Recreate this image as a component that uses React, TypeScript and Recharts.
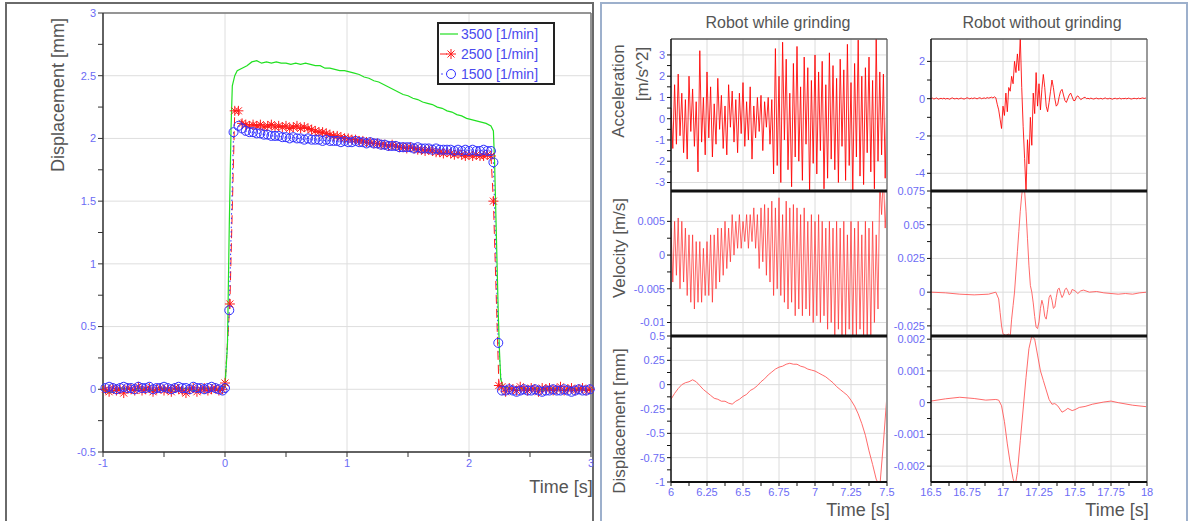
import { LineChart, Line, XAxis, YAxis, CartesianGrid, ReferenceLine, Legend } from "recharts";

type Pt = { t: number; v: number };

const FONT = "'Liberation Sans', Arial, sans-serif";
const TICK_BLUE = "#6b6bf5";

// sample grid helper (time stamps only, values are typed below)
const grid = (start: number, step: number, n: number) =>
  Array.from({ length: n }, (_, i) => Math.round((start + i * step) * 10000) / 10000);
const zip = (ts: number[], vs: number[]): Pt[] => ts.map((t, i) => ({ t, v: vs[i] }));

// ---------------- left chart: displacement vs time ----------------
const seriesNames = ["3500 [1/min]", "2500 [1/min]", "1500 [1/min]"];

const greenPre = [0.0, -0.03, -0.01, 0.01, 0.0, -0.01, 0.01, 0.0, -0.01, 0.0, 0.01, -0.01, 0.0, 0.01, 0.0, -0.01, 0.0, 0.01, 0.0, 0.0];
const greenRiseT = [0.0, 0.02, 0.035, 0.05, 0.06, 0.08];
const greenRiseV = [0.02, 0.35, 1.3, 2.1, 2.42, 2.5];
const greenTop = [
  2.54, 2.56, 2.58, 2.61, 2.62, 2.6, 2.61, 2.6, 2.61, 2.6,
  2.6, 2.59, 2.6, 2.59, 2.6, 2.59, 2.58, 2.58, 2.56, 2.56,
  2.55, 2.54, 2.54, 2.53, 2.52, 2.51, 2.49, 2.48, 2.46, 2.45,
  2.43, 2.41, 2.39, 2.37, 2.35, 2.34, 2.32, 2.31, 2.29, 2.28,
  2.27, 2.25, 2.24, 2.22, 2.21, 2.19, 2.18, 2.16, 2.15, 2.14,
  2.13, 2.12, 2.1,
];
const greenFallT = [2.2, 2.21, 2.22, 2.23, 2.24, 2.25, 2.26, 2.28];
const greenFallV = [2.06, 1.8, 1.4, 1.0, 0.6, 0.3, 0.08, 0.02];
const greenPost = [0.01, 0.0, -0.01, 0.01, 0.0, 0.0, 0.01, -0.01, 0.0, 0.01, 0.0, -0.01, 0.0, 0.01, 0.0, 0.0, -0.01, 0.0];

const redPre = [
  0.0, -0.02, 0.01, -0.01, 0.0, -0.03, 0.01, 0.0, -0.01, 0.02,
  -0.01, 0.0, 0.01, -0.02, 0.0, 0.01, -0.01, 0.0, -0.02, 0.01,
  0.0, -0.01, -0.03, 0.0, 0.01, -0.02, 0.0, 0.01, -0.01, 0.0,
  0.01, -0.01, 0.0,
];
const redRiseT = [0.0, 0.04, 0.08, 0.11];
const redRiseV = [0.05, 0.68, 2.22, 2.22];
const redTop = [
  2.12, 2.11, 2.1, 2.11, 2.1, 2.11, 2.09, 2.1, 2.11, 2.09,
  2.1, 2.09, 2.1, 2.08, 2.09, 2.1, 2.08, 2.09, 2.08, 2.07,
  2.06, 2.05, 2.05, 2.04, 2.03, 2.02, 2.02, 2.01, 2.0, 2.0,
  1.99, 1.99, 1.98, 1.98, 1.97, 1.97, 1.96, 1.96, 1.95, 1.95,
  1.94, 1.95, 1.94, 1.93, 1.93, 1.92, 1.93, 1.92, 1.91, 1.91,
  1.9, 1.91, 1.9, 1.89, 1.89, 1.88, 1.89, 1.88, 1.87, 1.88,
  1.87, 1.86, 1.87, 1.86, 1.87, 1.86, 1.86, 1.87, 1.86,
];
const redFallT = [2.2, 2.245];
const redFallV = [1.5, 0.03];
const redPost = [
  0.02, -0.02, 0.01, 0.0, -0.01, 0.02, 0.0, -0.01, 0.01, 0.0,
  -0.02, 0.01, 0.0, 0.01, -0.01, 0.0, 0.02, -0.01, 0.0, 0.01,
  -0.01, 0.0, 0.01, -0.01, 0.0,
];

const bluePre = [
  0.01, 0.02, 0.01, 0.0, 0.01, 0.02, 0.01, 0.01, 0.0, 0.02,
  0.01, 0.01, 0.02, 0.0, 0.01, 0.01, 0.02, 0.01, 0.0, 0.01,
  0.02, 0.01, 0.01, 0.0, 0.02, 0.01, 0.01, 0.0, 0.01, 0.02,
  0.01, 0.0, -0.01,
];
const blueRiseT = [0.0, 0.035, 0.07, 0.11];
const blueRiseV = [0.01, 0.63, 2.05, 2.1];
const blueTop = [
  2.08, 2.06, 2.05, 2.05, 2.04, 2.04, 2.03, 2.03, 2.02, 2.02,
  2.02, 2.01, 2.01, 2.0, 2.01, 2.0, 2.0, 1.99, 2.0, 1.99,
  1.99, 1.99, 1.98, 1.99, 1.98, 1.98, 1.98, 1.97, 1.98, 1.97,
  1.97, 1.98, 1.97, 1.97, 1.96, 1.97, 1.96, 1.96, 1.95, 1.95,
  1.94, 1.94, 1.94, 1.93, 1.93, 1.93, 1.93, 1.92, 1.93, 1.92,
  1.92, 1.92, 1.91, 1.92, 1.91, 1.91, 1.91, 1.91, 1.9, 1.91,
  1.9, 1.91, 1.9, 1.91, 1.9, 1.9, 1.91, 1.9, 1.9,
];
const blueFallT = [2.2, 2.24];
const blueFallV = [1.81, 0.37];
const bluePost = [
  -0.01, -0.01, 0.0, -0.01, -0.02, -0.01, 0.0, -0.01, -0.01, 0.0,
  -0.01, -0.02, -0.01, -0.01, 0.0, -0.01, -0.01, 0.0, -0.01, -0.02,
  -0.01, 0.0, -0.01, -0.01, 0.0,
];

const green3500 = [
  ...zip(grid(-1, 0.05, 20), greenPre),
  ...zip(greenRiseT, greenRiseV),
  ...zip(grid(0.1, 0.04, 53), greenTop),
  ...zip(greenFallT, greenFallV),
  ...zip(grid(2.32, 0.04, 18), greenPost),
];
const red2500 = [
  ...zip(grid(-0.98, 0.03, 33), redPre),
  ...zip(redRiseT, redRiseV),
  ...zip(grid(0.14, 0.03, 69), redTop),
  ...zip(redFallT, redFallV),
  ...zip(grid(2.27, 0.03, 25), redPost),
];
const blue1500 = [
  ...zip(grid(-0.98, 0.03, 33), bluePre),
  ...zip(blueRiseT, blueRiseV),
  ...zip(grid(0.14, 0.03, 69), blueTop),
  ...zip(blueFallT, blueFallV),
  ...zip(grid(2.27, 0.03, 25), bluePost),
];

const leftXTicks = [-1, -0.5, 0, 0.5, 1, 1.5, 2, 2.5, 3];
const leftXMajor = [-1, 0, 1, 2, 3];
const leftYTicks = [-0.5, -0.25, 0, 0.25, 0.5, 0.75, 1, 1.25, 1.5, 1.75, 2, 2.25, 2.5, 2.75, 3];
const leftYMajor = [-0.5, 0, 0.5, 1, 1.5, 2, 2.5, 3];

// ---------------- right panel: robot measurements ----------------
const accelGrind = [
  0.5, -1.4, 1.6, -1.2, 2.1, -0.8, 1.2, -1.6, 0.9, -1.9,
  2.0, -0.6, 1.4, -1.3, 0.8, -2.5, 3.2, -1.1, 1.0, -1.7,
  2.2, -0.9, 1.5, -1.8, 0.7, -1.2, 1.9, -0.5, 1.1, -1.4,
  0.6, -1.7, 1.6, -0.4, 1.3, -1.1, 0.9, -1.6, 1.2, -0.7,
  1.7, -1.3, 0.8, -1.0, 1.5, -1.9, 0.6, -0.9, 1.0, -0.6,
  1.1, -1.5, 0.8, -0.4, 1.0, -1.2, 0.9,
  -2.6, 3.3, -2.2, 2.0, -3.0, 3.6, -1.0, 2.8, -2.4, 1.2,
  -3.2, 2.6, -1.8, 3.4, -2.0, 1.5, -2.9, 2.9, -1.2, 2.4,
  -3.4, 1.8, -2.1, 3.0, -2.6, 2.2, -1.5, 2.7, -3.3, 1.6,
  -2.8, 3.1, -1.9, 2.5, -2.4, 1.9, -3.0, 2.8, -1.3, 2.3,
  -2.9, 3.5, -2.2, 1.7, -3.4, 2.6, -1.8, 3.7, -2.7, 2.0,
  -3.1, 2.4, -1.6, 2.9, -2.5, 1.8, -3.3, 3.8, -2.0, 2.2,
  -1.7, 2.1, -2.8, 1.5,
];
const velGrind = [
  0.004, -0.004, 0.005, -0.003, 0.0055, -0.005, 0.005, -0.004, 0.004, -0.006,
  0.003, -0.007, 0.003, -0.008, 0.002, -0.007, 0.002, -0.007, 0.001, -0.006,
  0.002, -0.006, 0.003, -0.007, 0.003, -0.005, 0.004, -0.004, 0.004, -0.003,
  0.005, -0.002, 0.004, -0.001, 0.006, 0.0, 0.005, 0.001, 0.006, 0.001,
  0.005, 0.002, 0.006, 0.001, 0.006, 0.002, 0.007, 0.001, 0.006, -0.002,
  0.007, -0.001, 0.0075, -0.003, 0.007, -0.004, 0.008, -0.006, 0.007, -0.005,
  0.0085, -0.006, 0.006, -0.007, 0.008, -0.008, 0.007, -0.007, 0.0075, -0.009,
  0.007, -0.008, 0.006, -0.009, 0.007, -0.008, 0.005, -0.009, 0.006, -0.01,
  0.005, -0.009, 0.006, -0.01, 0.005, -0.009, 0.004, -0.011, 0.005, -0.01,
  0.004, -0.012, 0.005, -0.011, 0.004, -0.012, 0.005, -0.012, 0.003, -0.011,
  0.005, -0.012, 0.004, -0.012, 0.005, -0.011, 0.003, -0.012, 0.005, -0.012,
  0.004, -0.012, 0.005, -0.01, 0.003, -0.008, 0.011, 0.006, 0.012, 0.004,
  0.01,
];
const dispGrind = [
  -0.15, -0.09, -0.04, 0.0, 0.02, 0.03, 0.05, 0.03, -0.01, -0.05,
  -0.08, -0.11, -0.14, -0.15, -0.17, -0.17, -0.19, -0.2, -0.17, -0.15,
  -0.12, -0.1, -0.06, -0.04, -0.01, 0.03, 0.06, 0.1, 0.13, 0.16,
  0.18, 0.19, 0.21, 0.22, 0.21, 0.21, 0.19, 0.18, 0.16, 0.15,
  0.14, 0.12, 0.1, 0.08, 0.05, 0.02, -0.02, -0.05, -0.08, -0.11,
  -0.16, -0.22, -0.3, -0.4, -0.52, -0.68, -0.82, -0.97, -1.05, -0.6,
  -0.1,
];
const accelFree = [
  0.0, 0.03, -0.02, 0.01, 0.04, -0.03, 0.0, 0.02, -0.01, 0.03,
  -0.02, 0.01, 0.0, -0.03, 0.02, 0.04, -0.01, 0.0, 0.02, -0.02,
  0.01, 0.03, 0.0, -0.02, 0.01, 0.05, 0.02, -0.01, 0.03, 0.0,
  0.04, 0.02, -0.01, 0.03, 0.05, 0.0, 0.02, 0.04, 0.01, 0.06,
  0.03, 0.05, 0.08, 0.04, 0.1,
  0.05, -0.3, -0.6, -1.1, -1.6, -0.4, -0.9, 0.3, -0.7, 0.6,
  0.4, 1.2, 0.8, 2.0, 1.4, 2.4, 1.5, 3.3, 0.6, -1.5,
  -3.2, -5.0, -2.2, -3.5, -1.0, -2.5, 0.3, -0.8, 1.4, -0.4,
  0.8, -0.6, 0.5, 1.3, 0.6, -0.4, -0.7, -0.2, 0.4, 1.0,
  0.6, 0.0, -0.4, -0.3, 0.1, 0.4, 0.5, 0.2, -0.1, -0.2,
  0.0, 0.2, 0.3, 0.1, -0.1, -0.1, 0.1, 0.15, 0.05, -0.05,
  0.0, 0.05, 0.08, 0.0,
  0.02, -0.01, 0.03, 0.0, -0.02, 0.01, 0.03, -0.01, 0.0, 0.02,
  -0.02, 0.01, 0.04, 0.0, -0.01, 0.02, 0.0, -0.03, 0.01, 0.02,
  -0.01, 0.0, 0.03, -0.02, 0.01, 0.0, 0.02, -0.01, 0.03, 0.01,
  -0.02, 0.0, 0.02, 0.01, -0.01, 0.03, 0.0, 0.02, 0.04, 0.01,
  0.03, 0.05,
];
const velFreeT = [
  16.5, 16.6, 16.7, 16.8, 16.9, 16.95, 16.97, 16.98, 16.99, 17.0,
  17.02, 17.04, 17.05, 17.06, 17.07, 17.08, 17.09, 17.1, 17.11, 17.12,
  17.13, 17.14, 17.15, 17.16, 17.17, 17.18, 17.19, 17.2, 17.21, 17.22,
  17.23, 17.24, 17.25, 17.26, 17.27, 17.28, 17.29, 17.3, 17.31, 17.32,
  17.33, 17.34, 17.35, 17.36, 17.37, 17.38, 17.39, 17.4, 17.41, 17.42,
  17.43, 17.44, 17.45, 17.46, 17.47, 17.48, 17.5, 17.52, 17.54, 17.56,
  17.6, 17.65, 17.7, 17.75, 17.8, 17.85, 17.9, 17.95, 18.0,
];
const velFreeV = [
  0.0, -0.0005, -0.0015, -0.002, -0.0015, 0.0, -0.005, -0.015, -0.025, -0.031,
  -0.032, -0.031, -0.033, -0.02, -0.01, 0.0, 0.015, 0.03, 0.045, 0.06,
  0.072, 0.08, 0.075, 0.06, 0.04, 0.02, 0.005, 0.0, -0.008, -0.018,
  -0.026, -0.027, -0.022, -0.012, -0.006, -0.01, -0.018, -0.02, -0.013, -0.004,
  -0.002, -0.006, -0.012, -0.011, -0.004, 0.002, 0.003, -0.001, -0.004, -0.002,
  0.002, 0.003, 0.001, -0.002, -0.001, 0.002, 0.001, -0.001, 0.001, 0.0015,
  0.0, 0.0005, -0.0005, -0.001, -0.0015, -0.001, -0.0015, -0.0005, 0.0,
];
const dispFreeT = [
  16.5, 16.6, 16.7, 16.8, 16.88, 16.95, 16.97, 16.99, 17.01, 17.03,
  17.05, 17.07, 17.085, 17.1, 17.12, 17.14, 17.16, 17.18, 17.2, 17.22,
  17.24, 17.26, 17.28, 17.3, 17.32, 17.34, 17.36, 17.38, 17.41, 17.43,
  17.45, 17.48, 17.5, 17.53, 17.57, 17.62, 17.7, 17.75, 17.8, 17.9,
  18.0,
];
const dispFreeV = [
  0.00005, 0.00012, 0.00017, 0.00013, 0.00008, 0.0001, 0.00008, -0.0001, -0.0006, -0.0013,
  -0.0019, -0.0024, -0.0026, -0.0022, -0.0012, -0.0002, 0.0008, 0.0017, 0.0021, 0.002,
  0.0015, 0.001, 0.0007, 0.0004, 0.0001, -0.00005, -0.00003, -0.0001, -0.0003, -0.00025,
  -0.00018, -0.00025, -0.00022, -0.00015, -0.00012, -0.00005, 0.00002, 0.00005, 0.0, -0.00008,
  -0.00013,
];

const grindXMajor = [6, 6.25, 6.5, 6.75, 7, 7.25, 7.5];
const freeXMajor = [16.5, 16.75, 17, 17.25, 17.5, 17.75, 18];

const withMinors = (majors: number[]) => {
  const out: number[] = [];
  majors.forEach((m, i) => {
    out.push(m);
    if (i < majors.length - 1) out.push((m + majors[i + 1]) / 2);
  });
  return out;
};
const isMajor = (majors: number[], v: number) => majors.some((m) => Math.abs(m - v) < 1e-9);

interface PanelCfg {
  x0: number; y0: number; x1: number; y1: number;
  xDomain: [number, number]; yDomain: [number, number];
  xMajor: number[]; yMajor: number[];
  data: Pt[]; color: string; opacity: number;
  topThick: boolean; bottom: boolean;
}

const panels: PanelCfg[] = [
  { x0: 671, y0: 39, x1: 887, y1: 191, xDomain: [6, 7.5], yDomain: [-3.4, 3.75], xMajor: grindXMajor, yMajor: [-3, -2, -1, 0, 1, 2, 3], data: zip(grid(6, 0.0125, 121), accelGrind), color: "#ff0000", opacity: 0.85, topThick: false, bottom: false },
  { x0: 931, y0: 39, x1: 1147, y1: 191, xDomain: [16.5, 18], yDomain: [-4.95, 3.2], xMajor: freeXMajor, yMajor: [-4, -2, 0, 2], data: zip(grid(16.5, 0.01, 151), accelFree), color: "#ff0000", opacity: 0.85, topThick: false, bottom: false },
  { x0: 671, y0: 191, x1: 887, y1: 336, xDomain: [6, 7.5], yDomain: [-0.012, 0.0095], xMajor: grindXMajor, yMajor: [-0.01, -0.005, 0, 0.005], data: zip(grid(6, 0.0125, 121), velGrind), color: "#ff2a2a", opacity: 0.7, topThick: true, bottom: false },
  { x0: 931, y0: 191, x1: 1147, y1: 336, xDomain: [16.5, 18], yDomain: [-0.0325, 0.075], xMajor: freeXMajor, yMajor: [-0.025, 0, 0.025, 0.05, 0.075], data: zip(velFreeT, velFreeV), color: "#ff5a5a", opacity: 0.9, topThick: true, bottom: false },
  { x0: 671, y0: 336, x1: 887, y1: 482, xDomain: [6, 7.5], yDomain: [-1, 0.5], xMajor: grindXMajor, yMajor: [-1, -0.75, -0.5, -0.25, 0, 0.25, 0.5], data: zip(grid(6, 0.025, 61), dispGrind), color: "#ff5a5a", opacity: 0.9, topThick: true, bottom: true },
  { x0: 931, y0: 336, x1: 1147, y1: 482, xDomain: [16.5, 18], yDomain: [-0.0025, 0.0021], xMajor: freeXMajor, yMajor: [-0.002, -0.001, 0, 0.001, 0.002], data: zip(dispFreeT, dispFreeV), color: "#ff5a5a", opacity: 0.9, topThick: true, bottom: true },
];

const SubPlot = ({ cfg }: { cfg: PanelCfg }) => {
  const YW = 60;
  const PADT = 9;
  const PADR = 14;
  const PADB = 9;
  const XH = cfg.bottom ? 22 : 0;
  const w = cfg.x1 - cfg.x0 + YW + PADR;
  const h = cfg.y1 - cfg.y0 + PADT + (cfg.bottom ? XH : PADB);
  return (
    <div style={{ position: "absolute", left: cfg.x0 - YW, top: cfg.y0 - PADT }}>
      <LineChart width={w} height={h} margin={{ top: PADT, right: PADR, left: 0, bottom: cfg.bottom ? 0 : PADB }}>
        <CartesianGrid stroke="#dcdcdc" verticalValues={cfg.xMajor} horizontalValues={cfg.yMajor} />
        <XAxis
          type="number"
          dataKey="t"
          domain={cfg.xDomain}
          ticks={withMinors(cfg.xMajor)}
          allowDataOverflow
          hide={!cfg.bottom}
          height={XH}
          interval={0}
          tickSize={4}
          tickFormatter={(v: number) => (isMajor(cfg.xMajor, v) ? String(v) : "")}
          axisLine={{ stroke: "#111", strokeWidth: 2 }}
          tickLine={{ stroke: "#111" }}
          tick={{ fill: TICK_BLUE, fontSize: 11, fontFamily: FONT }}
        />
        <YAxis
          type="number"
          domain={cfg.yDomain}
          ticks={withMinors(cfg.yMajor)}
          allowDataOverflow
          width={YW}
          interval={0}
          tickSize={4}
          tickFormatter={(v: number) => (isMajor(cfg.yMajor, v) ? String(v) : "")}
          axisLine={{ stroke: "#111", strokeWidth: 1.5 }}
          tickLine={{ stroke: "#111" }}
          tick={{ fill: TICK_BLUE, fontSize: 11, fontFamily: FONT }}
        />
        <Line
          data={cfg.data}
          dataKey="v"
          type="linear"
          stroke={cfg.color}
          strokeOpacity={cfg.opacity}
          strokeWidth={1}
          dot={false}
          isAnimationActive={false}
        />
        <ReferenceLine x={cfg.xDomain[1]} stroke="#9a9a9a" strokeWidth={2} />
        <ReferenceLine y={cfg.yDomain[1]} stroke={cfg.topThick ? "#111" : "#555"} strokeWidth={cfg.topThick ? 3 : 1.5} />
      </LineChart>
    </div>
  );
};

const StarMark = ({ cx, cy }: { cx: number; cy: number }) => (
  <g stroke="#ff1a1a" strokeWidth={1}>
    <line x1={cx - 5} y1={cy} x2={cx + 5} y2={cy} />
    <line x1={cx} y1={cy - 5} x2={cx} y2={cy + 5} />
    <line x1={cx - 3.5} y1={cy - 3.5} x2={cx + 3.5} y2={cy + 3.5} />
    <line x1={cx - 3.5} y1={cy + 3.5} x2={cx + 3.5} y2={cy - 3.5} />
  </g>
);

const starDot = (p: any) =>
  p.cx == null ? <g key={`s${p.index}`} /> : <StarMark key={`s${p.index}`} cx={p.cx} cy={p.cy} />;
const circleDot = (p: any) =>
  p.cx == null ? <g key={`c${p.index}`} /> : (
    <circle key={`c${p.index}`} cx={p.cx} cy={p.cy} r={4.5} fill="none" stroke="#3030ff" strokeWidth={1} />
  );

const LegendBox = () => (
  <div
    style={{
      border: "2px solid #222",
      background: "#fff",
      width: 114,
      height: 59,
      fontFamily: FONT,
      fontSize: 14,
      color: "#4a4aee",
      boxSizing: "content-box",
    }}
  >
    {seriesNames.map((name, i) => (
      <div key={name} style={{ display: "flex", alignItems: "center", height: 20 }}>
        <svg width={20} height={14} style={{ flex: "none" }}>
          {i === 0 && <line x1={1} y1={7} x2={19} y2={7} stroke="#22e022" strokeWidth={1.2} />}
          {i === 1 && (
            <>
              <line x1={1} y1={7} x2={8} y2={7} stroke="#ff1a1a" strokeWidth={1} />
              <StarMark cx={12} cy={7} />
            </>
          )}
          {i === 2 && (
            <>
              <circle cx={3} cy={7} r={0.8} fill="#3030ff" />
              <circle cx={12} cy={7} r={4.5} fill="none" stroke="#3030ff" strokeWidth={1} />
            </>
          )}
        </svg>
        <span style={{ marginLeft: 2 }}>{name}</span>
      </div>
    ))}
  </div>
);

const RotText = ({ x, y, size, children }: { x: number; y: number; size: number; children: string }) => (
  <div
    style={{
      position: "absolute",
      left: x,
      top: y,
      transform: "translate(-50%, -50%) rotate(-90deg)",
      whiteSpace: "nowrap",
      fontFamily: FONT,
      fontSize: size,
      color: "#555",
    }}
  >
    {children}
  </div>
);

const PlainText = ({ x, y, size, children }: { x: number; y: number; size: number; children: string }) => (
  <div
    style={{
      position: "absolute",
      left: x,
      top: y,
      transform: "translate(-50%, -50%)",
      whiteSpace: "nowrap",
      fontFamily: FONT,
      fontSize: size,
      color: "#555",
    }}
  >
    {children}
  </div>
);

export default function App() {
  return (
    <div style={{ position: "absolute", left: 0, top: 0, width: 1190, height: 521, background: "#fff", overflow: "hidden" }}>
      {/* panel frames */}
      <div style={{ position: "absolute", left: 5, top: 2, width: 585, height: 540, border: "2px solid #6a6a6a" }} />
      <div style={{ position: "absolute", left: 600, top: 2, width: 584, height: 540, border: "2px solid #9db0cc" }} />

      {/* left chart */}
      <div style={{ position: "absolute", left: 0, top: 0 }}>
        <LineChart width={600} height={521} margin={{ top: 13, right: 9, left: 43, bottom: 39 }}>
          <CartesianGrid stroke="#dedede" verticalValues={leftXMajor} horizontalValues={leftYMajor} />
          <XAxis
            type="number"
            dataKey="t"
            domain={[-1, 3]}
            ticks={leftXTicks}
            interval={0}
            height={30}
            tickSize={5}
            tickFormatter={(v: number) => (isMajor(leftXMajor, v) ? String(v) : "")}
            axisLine={{ stroke: "#333", strokeWidth: 1.5 }}
            tickLine={{ stroke: "#333" }}
            tick={{ fill: TICK_BLUE, fontSize: 11, fontFamily: FONT }}
          />
          <YAxis
            type="number"
            domain={[-0.5, 3]}
            ticks={leftYTicks}
            interval={0}
            width={60}
            tickSize={5}
            tickFormatter={(v: number) => (isMajor(leftYMajor, v) ? String(v) : "")}
            axisLine={{ stroke: "#333", strokeWidth: 1.5 }}
            tickLine={{ stroke: "#333" }}
            tick={{ fill: TICK_BLUE, fontSize: 11, fontFamily: FONT }}
          />
          <ReferenceLine x={3} stroke="#777" strokeWidth={1.5} />
          <ReferenceLine y={3} stroke="#777" strokeWidth={1.5} />
          <Line
            name={seriesNames[1]}
            data={red2500}
            dataKey="v"
            type="linear"
            stroke="#ff1a1a"
            strokeWidth={1}
            strokeDasharray="9 5"
            dot={starDot}
            isAnimationActive={false}
          />
          <Line
            name={seriesNames[2]}
            data={blue1500}
            dataKey="v"
            type="linear"
            stroke="#3030ff"
            strokeWidth={1}
            strokeDasharray="1.5 3"
            dot={circleDot}
            isAnimationActive={false}
          />
          <Line
            name={seriesNames[0]}
            data={green3500}
            dataKey="v"
            type="linear"
            stroke="#22e022"
            strokeWidth={1.2}
            dot={false}
            isAnimationActive={false}
          />
          <Legend
            layout="vertical"
            align="center"
            verticalAlign="middle"
            wrapperStyle={{ left: 437, top: 22, width: 118 }}
            content={() => <LegendBox />}
          />
        </LineChart>
      </div>
      <RotText x={58} y={95} size={18}>Displacement [mm]</RotText>
      <PlainText x={561} y={487} size={18}>Time [s]</PlainText>

      {/* right panel */}
      {panels.map((cfg, i) => (
        <SubPlot key={i} cfg={cfg} />
      ))}
      <PlainText x={778} y={23} size={16}>Robot while grinding</PlainText>
      <PlainText x={1042} y={23} size={16}>Robot without grinding</PlainText>
      <RotText x={619} y={91} size={17}>Acceleration</RotText>
      <RotText x={643} y={74} size={17}>[m/s^2]</RotText>
      <RotText x={620} y={248} size={17}>Velocity [m/s]</RotText>
      <RotText x={620} y={421} size={17}>Displacement [mm]</RotText>
      <PlainText x={858} y={510} size={18}>Time [s]</PlainText>
      <PlainText x={1117} y={510} size={18}>Time [s]</PlainText>
    </div>
  );
}
